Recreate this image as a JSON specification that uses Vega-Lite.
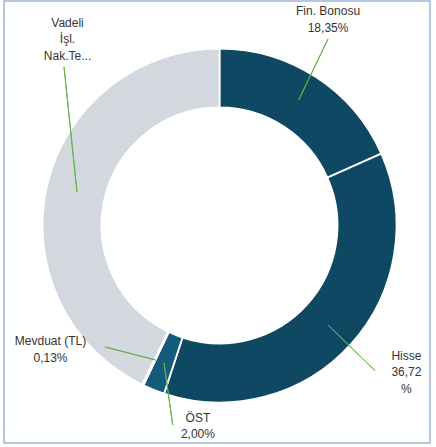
{
  "$schema": "https://vega.github.io/schema/vega-lite/v6.json",
  "width": 436,
  "height": 447,
  "autosize": {"type": "fit", "contains": "padding"},
  "padding": {"left": 4, "top": 1, "right": 6, "bottom": 4},
  "background": "white",
  "view": {"stroke": "#9fb7d8", "strokeWidth": 1.5, "fill": "white"},
  "data": {
    "values": [
      {"name": "Fin. Bonosu", "value": 18.35, "label": ["Fin. Bonosu", "18,35%"]},
      {"name": "Hisse", "value": 36.72, "label": ["Hisse", "36,72", "%"]},
      {"name": "ÖST", "value": 2.00, "label": ["ÖST", "2,00%"]},
      {"name": "Mevduat (TL)", "value": 0.13, "label": ["Mevduat (TL)", "0,13%"]},
      {"name": "Vadeli İşl. Nak.Te...", "value": 42.80, "label": ["Vadeli", "İşl.", "Nak.Te..."]}
    ]
  },
  "transform": [
    {"stack": "value", "groupby": [], "as": ["v0", "v1"]},
    {"calculate": "(datum.v0 + datum.v1) / 2", "as": "mid"}
  ],
  "layer": [
    {
      "mark": {"type": "arc", "outerRadius": 177, "innerRadius": 118, "stroke": "white", "strokeWidth": 1.8, "xOffset": 2.5, "yOffset": 3.5},
      "encoding": {
        "theta": {"field": "v0", "type": "quantitative", "stack": null, "scale": {"domain": [0, 100]}},
        "theta2": {"field": "v1"},
        "color": {
          "field": "name", "type": "nominal", "legend": null,
          "scale": {
            "domain": ["Fin. Bonosu", "Hisse", "ÖST", "Mevduat (TL)", "Vadeli İşl. Nak.Te..."],
            "range": ["#0f4863", "#0f4863", "#135a7b", "#ffffff", "#d3d8df"]
          }
        }
      }
    },
    {
      "transform": [{"filter": "datum.name == 'Fin. Bonosu'"}],
      "mark": {"type": "arc", "outerRadius": 67.7, "innerRadius": 0, "stroke": "#62b34c", "strokeWidth": 1, "fill": null, "thetaOffset": -0.1288, "theta2Offset": -0.1288, "xOffset": 81.7, "yOffset": -122},
      "encoding": {
        "theta": {"field": "mid", "type": "quantitative", "stack": null, "scale": {"domain": [0, 100]}},
        "theta2": {"field": "mid"}
      }
    },
    {
      "transform": [{"filter": "datum.name == 'Hisse'"}],
      "mark": {"type": "arc", "outerRadius": 65.6, "innerRadius": 0, "stroke": "#62b34c", "strokeWidth": 1, "fill": null, "thetaOffset": 0.0356, "theta2Offset": 0.0356, "xOffset": 111, "yOffset": 103},
      "encoding": {
        "theta": {"field": "mid", "type": "quantitative", "stack": null, "scale": {"domain": [0, 100]}},
        "theta2": {"field": "mid"}
      }
    },
    {
      "transform": [{"filter": "datum.name == 'ÖST'"}],
      "mark": {"type": "arc", "outerRadius": 62.6, "innerRadius": 0, "stroke": "#62b34c", "strokeWidth": 1, "fill": null, "thetaOffset": -0.521, "theta2Offset": -0.521, "xOffset": -53, "yOffset": 141},
      "encoding": {
        "theta": {"field": "mid", "type": "quantitative", "stack": null, "scale": {"domain": [0, 100]}},
        "theta2": {"field": "mid"}
      }
    },
    {
      "transform": [{"filter": "datum.name == 'Mevduat (TL)'"}],
      "mark": {"type": "arc", "outerRadius": 52.3, "innerRadius": 0, "stroke": "#62b34c", "strokeWidth": 1, "fill": null, "thetaOffset": 1.374, "theta2Offset": 1.374, "xOffset": -61.3, "yOffset": 138},
      "encoding": {
        "theta": {"field": "mid", "type": "quantitative", "stack": null, "scale": {"domain": [0, 100]}},
        "theta2": {"field": "mid"}
      }
    },
    {
      "transform": [{"filter": "datum.name == 'Vadeli İşl. Nak.Te...'"}],
      "mark": {"type": "arc", "outerRadius": 125.7, "innerRadius": 0, "stroke": "#62b34c", "strokeWidth": 1, "fill": null, "thetaOffset": 1.241, "theta2Offset": 1.241, "xOffset": -140, "yOffset": -30},
      "encoding": {
        "theta": {"field": "mid", "type": "quantitative", "stack": null, "scale": {"domain": [0, 100]}},
        "theta2": {"field": "mid"}
      }
    },
    {
      "transform": [{"filter": "datum.name == 'Fin. Bonosu'"}],
      "mark": {"type": "text", "radius": 225, "align": "center", "baseline": "top", "lineHeight": 16.5, "font": "Liberation Sans", "fontSize": 12, "color": "#333333", "dx": -11.6, "dy": -26.9},
      "encoding": {
        "theta": {"field": "mid", "type": "quantitative", "stack": null, "scale": {"domain": [0, 100]}},
        "text": {"field": "label"}
      }
    },
    {
      "transform": [{"filter": "datum.name == 'Hisse'"}],
      "mark": {"type": "text", "radius": 225, "align": "center", "baseline": "top", "lineHeight": 16.5, "font": "Liberation Sans", "fontSize": 12, "color": "#333333", "dx": 22.6, "dy": -22.4},
      "encoding": {
        "theta": {"field": "mid", "type": "quantitative", "stack": null, "scale": {"domain": [0, 100]}},
        "text": {"field": "label"}
      }
    },
    {
      "transform": [{"filter": "datum.name == 'ÖST'"}],
      "mark": {"type": "text", "radius": 225, "align": "center", "baseline": "top", "lineHeight": 16.5, "font": "Liberation Sans", "fontSize": 12, "color": "#333333", "dx": 64.7, "dy": -18},
      "encoding": {
        "theta": {"field": "mid", "type": "quantitative", "stack": null, "scale": {"domain": [0, 100]}},
        "text": {"field": "label"}
      }
    },
    {
      "transform": [{"filter": "datum.name == 'Mevduat (TL)'"}],
      "mark": {"type": "text", "radius": 225, "align": "center", "baseline": "top", "lineHeight": 16.5, "font": "Liberation Sans", "fontSize": 12, "color": "#333333", "dx": -69, "dy": -88.3},
      "encoding": {
        "theta": {"field": "mid", "type": "quantitative", "stack": null, "scale": {"domain": [0, 100]}},
        "text": {"field": "label"}
      }
    },
    {
      "transform": [{"filter": "datum.name == 'Vadeli İşl. Nak.Te...'"}],
      "mark": {"type": "text", "radius": 225, "align": "center", "baseline": "top", "lineHeight": 16.5, "font": "Liberation Sans", "fontSize": 12, "color": "#333333", "dx": 69.8, "dy": -153.7},
      "encoding": {
        "theta": {"field": "mid", "type": "quantitative", "stack": null, "scale": {"domain": [0, 100]}},
        "text": {"field": "label"}
      }
    }
  ]
}
